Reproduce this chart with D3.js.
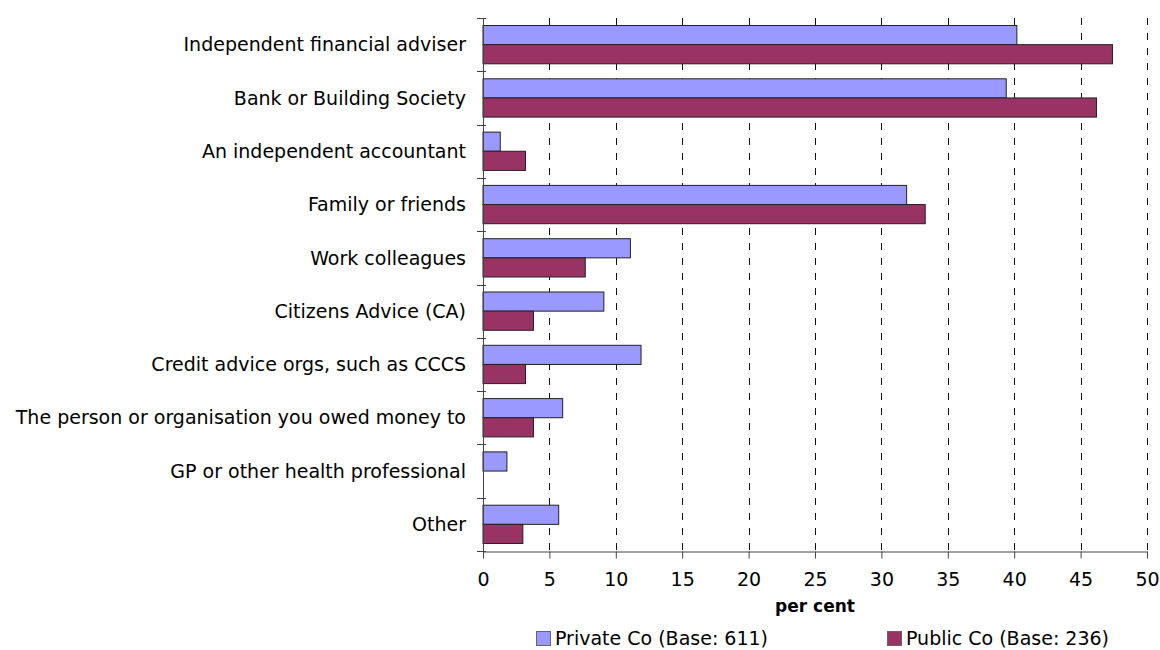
<!DOCTYPE html>
<html>
<head>
<meta charset="utf-8">
<script src="https://cdn.jsdelivr.net/npm/d3@7"></script>
<style>
  body { margin: 0; background: #fff; }
  text { font-family: "DejaVu Sans", sans-serif; fill: #000; }
</style>
</head>
<body>
<div id="chart"></div>
<script>
// chart data
let categories = [
    "Independent financial adviser",
    "Bank or Building Society",
    "An independent accountant",
    "Family or friends",
    "Work colleagues",
    "Citizens Advice (CA)",
    "Credit advice orgs, such as CCCS",
    "The person or organisation you owed money to",
    "GP or other health professional",
    "Other"
];
let seriesNames = ["Private Co (Base: 611)", "Public Co (Base: 236)"];
let privateValues = [40.2, 39.4, 1.3, 31.9, 11.1, 9.1, 11.9, 6.0, 1.8, 5.7];
let publicValues = [47.4, 46.2, 3.2, 33.3, 7.7, 3.8, 3.2, 3.8, 0, 3.0];
let xTicks = [0, 5, 10, 15, 20, 25, 30, 35, 40, 45, 50];

let colors = ["#9999ff", "#993366"];

function makeChart() {
    let svgWidth = 1160;
    let svgHeight = 650;

    let left = 483, right = 1147, top = 18, bottom = 551;

    let svg = d3.select("#chart")
        .append("svg")
        .attr("width", svgWidth)
        .attr("height", svgHeight);

    let x = d3.scaleLinear().domain([0, 50]).range([left, right]);
    let y = d3.scaleBand().domain(categories).range([top, bottom]).padding(0);
    let ySub = d3.scaleBand().domain([0, 1])
        .range([7.5, y.bandwidth() - 7.5]).padding(0);

    // dashed gridlines
    svg.append("g")
        .selectAll("line")
        .data(xTicks.filter(d => d > 0))
        .enter()
        .append("line")
        .attr("x1", d => Math.round(x(d)) + 0.5)
        .attr("x2", d => Math.round(x(d)) + 0.5)
        .attr("y1", top)
        .attr("y2", bottom)
        .attr("stroke", "#111")
        .attr("stroke-width", 1)
        .attr("stroke-dasharray", "7,8");

    // bars
    let rows = categories.map((c, i) => ({ cat: c, vals: [privateValues[i], publicValues[i]] }));
    let groups = svg.append("g")
        .selectAll("g")
        .data(rows)
        .enter()
        .append("g")
        .attr("transform", d => `translate(0, ${y(d.cat)})`);

    groups.selectAll("rect")
        .data(d => d.vals.map((v, k) => ({ v: v, k: k })).filter(e => e.v > 0))
        .enter()
        .append("rect")
        .attr("x", x(0))
        .attr("y", d => ySub(d.k))
        .attr("width", d => x(d.v) - x(0))
        .attr("height", ySub.bandwidth())
        .attr("fill", d => colors[d.k])
        .attr("stroke", "#222")
        .attr("stroke-width", 1);

    // category axis
    svg.append("line")
        .attr("x1", left + 0.5).attr("x2", left + 0.5)
        .attr("y1", top).attr("y2", bottom)
        .attr("stroke", "#444");

    let bounds = categories.map(c => y(c)).concat([bottom]);
    svg.append("g")
        .selectAll("line")
        .data(bounds)
        .enter()
        .append("line")
        .attr("x1", left - 6)
        .attr("x2", left + 3)
        .attr("y1", d => Math.round(d) + 0.5)
        .attr("y2", d => Math.round(d) + 0.5)
        .attr("stroke", "#444");

    svg.append("g")
        .selectAll("text")
        .data(categories)
        .enter()
        .append("text")
        .attr("x", left - 17)
        .attr("y", d => y(d) + y.bandwidth() / 2)
        .attr("dy", "0.35em")
        .attr("text-anchor", "end")
        .attr("font-size", "19px")
        .text(d => d);

    // value axis
    let xAxis = d3.axisBottom(x)
        .tickValues(xTicks)
        .tickSize(7)
        .tickPadding(14)
        .tickSizeOuter(0);

    let gx = svg.append("g")
        .attr("transform", `translate(0, ${bottom + 0.5})`)
        .call(xAxis);
    gx.select(".domain").attr("stroke", "#444");
    gx.selectAll(".tick line").attr("stroke", "#444");
    gx.selectAll(".tick text")
        .attr("font-size", "19px")
        .attr("font-family", "DejaVu Sans, sans-serif")
        .attr("fill", "#000");

    svg.append("text")
        .attr("x", (left + right) / 2)
        .attr("y", 612)
        .attr("text-anchor", "middle")
        .attr("font-size", "17px")
        .attr("font-weight", "bold")
        .text("per cent");

    // legend
    let legendX = [536, 887];
    let legend = svg.append("g")
        .selectAll("g")
        .data(seriesNames)
        .enter()
        .append("g")
        .attr("transform", (d, i) => `translate(${legendX[i]}, 631)`);

    legend.append("rect")
        .attr("x", 0.5).attr("y", 0.5)
        .attr("width", 14).attr("height", 14)
        .attr("fill", (d, i) => colors[i])
        .attr("stroke", "#666");

    legend.append("text")
        .attr("x", 19)
        .attr("y", 7.5)
        .attr("dy", "0.35em")
        .attr("font-size", "19px")
        .text(d => d);
}

makeChart();
</script>
</body>
</html>
